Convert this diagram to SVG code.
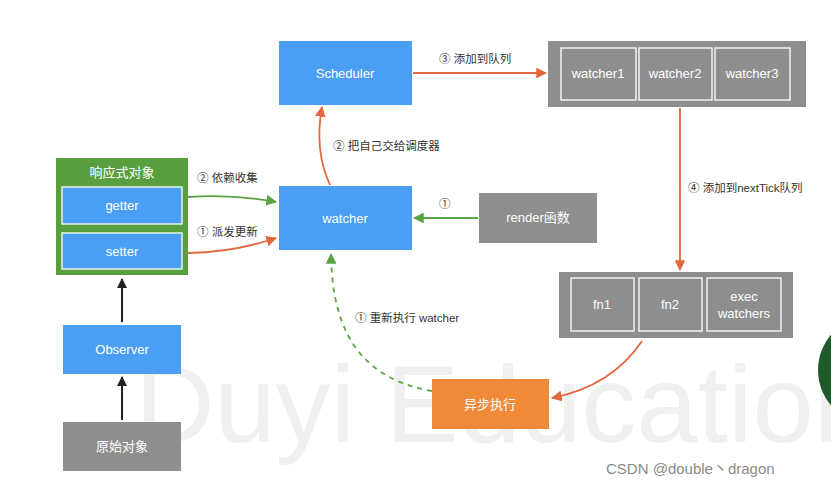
<svg xmlns="http://www.w3.org/2000/svg" width="831" height="489" viewBox="0 0 831 489">
<style>
.t{font-family:"Liberation Sans","Noto Sans CJK SC",sans-serif}
.box{fill:#fff;font-size:13px}
.lbl{fill:#333;font-size:11.5px}
.blue{fill:#4a9ff5}
.gray{fill:#8e8e8e}
.inner{fill:#8e8e8e;stroke:#f2f2f2;stroke-width:1.5}
.wm{fill:#f0f0f0;font-family:"Liberation Sans","Noto Sans CJK SC",sans-serif}
.red{fill:none;stroke:#e2673f;stroke-width:1.8}
.grn{fill:none;stroke:#5ba443;stroke-width:1.8}
.blk{fill:none;stroke:#222;stroke-width:2}
</style>
<defs>
<marker id="ar" viewBox="0 0 10 10" refX="9" refY="5" markerWidth="6" markerHeight="6" orient="auto" markerUnits="strokeWidth"><path d="M0,0L10,5L0,10z" fill="#e2673f"/></marker>
<marker id="ag" viewBox="0 0 10 10" refX="9" refY="5" markerWidth="6" markerHeight="6" orient="auto" markerUnits="strokeWidth"><path d="M0,0L10,5L0,10z" fill="#5ba443"/></marker>
<marker id="ab" viewBox="0 0 10 10" refX="9" refY="5" markerWidth="5" markerHeight="5" orient="auto" markerUnits="strokeWidth"><path d="M0,0L10,5L0,10z" fill="#222"/></marker>
</defs>
<rect width="831" height="489" fill="#fff"/>
<g id="watermark">
<text class="wm" x="135" y="442" font-size="110">Duyi Education</text>
</g>
<circle cx="873" cy="370" r="55" fill="#1e5a2c"/>

<g id="connectors">
<path class="grn" d="M188,197 Q235,194 276,202" marker-end="url(#ag)"/>
<path class="red" d="M188,253 Q235,252 276,238" marker-end="url(#ar)"/>
<path class="grn" d="M478,218 L414,218" marker-end="url(#ag)"/>
<path class="red" d="M330,185 Q314,150 322,107" marker-end="url(#ar)"/>
<path class="red" d="M413,73 L546,73" marker-end="url(#ar)"/>
<path class="red" d="M680,108 L680,270" marker-end="url(#ar)"/>
<path class="red" d="M642,341 Q612,386 552,398" marker-end="url(#ar)"/>
<path class="grn" d="M432,391 C368,380 332,340 331,254" stroke-dasharray="5,5" marker-end="url(#ag)"/>
<path class="blk" d="M122,322 L122,279" marker-end="url(#ab)"/>
<path class="blk" d="M122,420 L122,377" marker-end="url(#ab)"/>
<text class="t lbl" x="197" y="182">② 依赖收集</text>
<text class="t lbl" x="197" y="236">① 派发更新</text>
<text class="t lbl" x="333" y="150">② 把自己交给调度器</text>
<text class="t lbl" x="439" y="63">③ 添加到队列</text>
<text class="t lbl" x="688" y="192">④ 添加到nextTick队列</text>
<text class="t lbl" x="439" y="208">①</text>
<text class="t lbl" x="355" y="322">① 重新执行 watcher</text>
</g>

<g id="reactive">
<rect x="56" y="158" width="132" height="117" fill="#58a03f"/>
<text class="t box" x="122" y="177" text-anchor="middle">响应式对象</text>
</g>
<g id="getter">
<rect x="62" y="187" width="120" height="37" class="blue" stroke="#e8f4e4" stroke-width="1.5"/>
<text class="t box" x="122" y="210" text-anchor="middle">getter</text>
</g>
<g id="setter">
<rect x="62" y="233" width="120" height="36" class="blue" stroke="#e8f4e4" stroke-width="1.5"/>
<text class="t box" x="122" y="256" text-anchor="middle">setter</text>
</g>
<g id="observer">
<rect x="63" y="325" width="118" height="49" class="blue"/>
<text class="t box" x="122" y="354" text-anchor="middle">Observer</text>
</g>
<g id="raw">
<rect x="63" y="422" width="118" height="49" class="gray"/>
<text class="t box" x="122" y="451" text-anchor="middle">原始对象</text>
</g>
<g id="scheduler">
<rect x="279" y="41" width="133" height="64" class="blue"/>
<text class="t box" x="345" y="78" text-anchor="middle">Scheduler</text>
</g>
<g id="watcher">
<rect x="279" y="186" width="133" height="64" class="blue"/>
<text class="t box" x="345" y="223" text-anchor="middle">watcher</text>
</g>
<g id="render">
<rect x="479" y="193" width="118" height="50" class="gray"/>
<text class="t box" x="538" y="222" text-anchor="middle">render函数</text>
</g>
<g id="queue">
<rect x="548" y="41" width="258" height="66" class="gray"/>
<rect x="561" y="48" width="75" height="52" class="inner"/>
<rect x="639" y="48" width="73" height="52" class="inner"/>
<rect x="715" y="48" width="75" height="52" class="inner"/>
<text class="t box" x="598" y="78" text-anchor="middle">watcher1</text>
<text class="t box" x="675" y="78" text-anchor="middle">watcher2</text>
<text class="t box" x="752" y="78" text-anchor="middle">watcher3</text>
</g>
<g id="tickqueue">
<rect x="559" y="272" width="234" height="66" class="gray"/>
<rect x="571" y="278" width="63" height="53" class="inner"/>
<rect x="639" y="278" width="63" height="53" class="inner"/>
<rect x="707" y="278" width="74" height="53" class="inner"/>
<text class="t box" x="602" y="309" text-anchor="middle">fn1</text>
<text class="t box" x="670" y="309" text-anchor="middle">fn2</text>
<text class="t box" x="744" y="301" text-anchor="middle">exec</text>
<text class="t box" x="744" y="318" text-anchor="middle">watchers</text>
</g>
<g id="async">
<rect x="432" y="379" width="117" height="50" fill="#f08a38"/>
<text class="t box" x="490" y="409" text-anchor="middle">异步执行</text>
</g>
<text class="t" x="606" y="474" font-size="15" fill="#8a8a8a">CSDN @double丶dragon</text>
</svg>
